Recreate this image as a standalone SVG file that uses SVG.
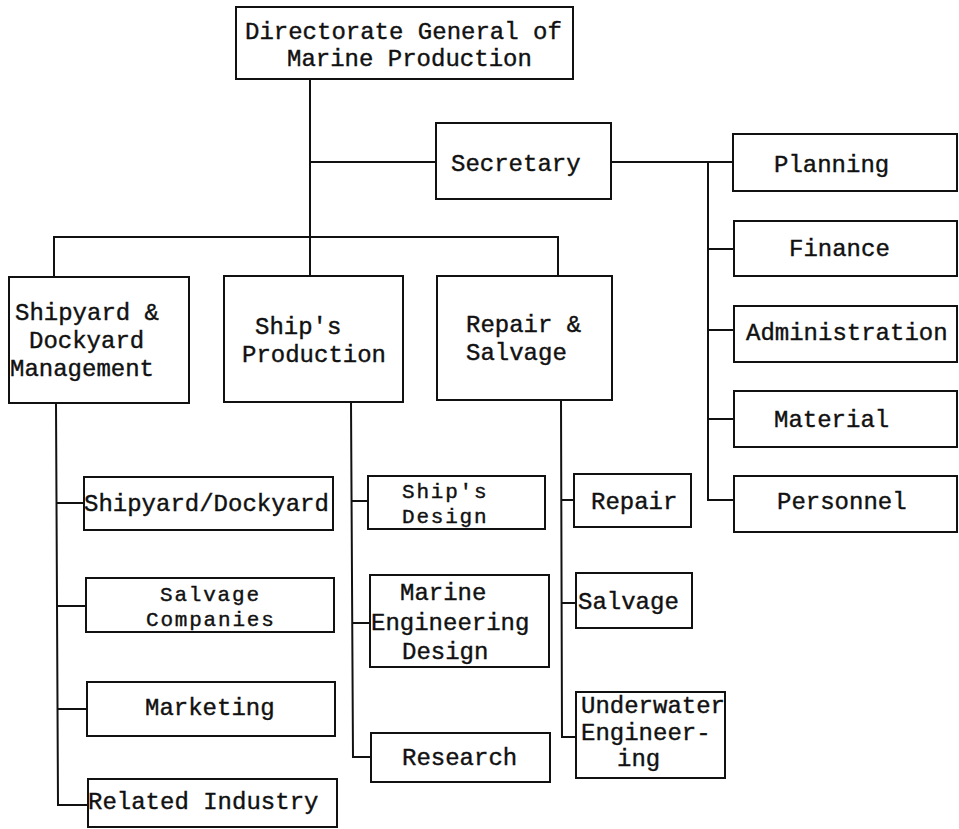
<svg xmlns="http://www.w3.org/2000/svg" width="959" height="829" viewBox="0 0 959 829">
<style>
.box{fill:#fff;stroke:#111;stroke-width:2}
.ln{fill:none;stroke:#111;stroke-width:2}
text{font-family:"Liberation Mono","DejaVu Sans Mono",monospace;font-size:24px;fill:#111;stroke:#111;stroke-width:0.4}
text.sm{font-size:21px;letter-spacing:1.8px}
</style>
<rect width="959" height="829" fill="#fff"/>
<g id="connectors">
<path class="ln" d="M310,79 V276"/>
<path class="ln" d="M310,162 H436"/>
<path class="ln" d="M54,277 V237 H558 V276"/>
<path class="ln" d="M611,162 H733"/>
<path class="ln" d="M708,162 V500 H734"/>
<path class="ln" d="M708,249 H734 M708,330 H734 M708,419 H734"/>
<path class="ln" d="M56,403 L58,805 H88 M56,503 H84 M57,606 H86 M57,709 H87"/>
<path class="ln" d="M351,402 L353,757 H371 M351,501 H368 M352,623 H370"/>
<path class="ln" d="M561,400 L562,737 H577 M561,500 H574 M562,603 H576"/>
</g>
<g id="n-dgmp"><rect class="box" x="236" y="7" width="337" height="72"/><text x="245" y="39">Directorate General of</text><text x="287" y="66">Marine Production</text></g>
<g id="n-secretary"><rect class="box" x="436" y="123" width="175" height="76"/><text x="451" y="171">Secretary</text></g>
<g id="n-planning"><rect class="box" x="733" y="134" width="224" height="57"/><text x="774" y="172">Planning</text></g>
<g id="n-finance"><rect class="box" x="734" y="221" width="223" height="55"/><text x="789" y="256">Finance</text></g>
<g id="n-admin"><rect class="box" x="734" y="306" width="223" height="56"/><text x="746" y="340">Administration</text></g>
<g id="n-material"><rect class="box" x="734" y="391" width="223" height="56"/><text x="774" y="427">Material</text></g>
<g id="n-personnel"><rect class="box" x="734" y="476" width="223" height="56"/><text x="777" y="509">Personnel</text></g>
<g id="n-sdm"><rect class="box" x="9" y="277" width="180" height="126"/><text x="15" y="320">Shipyard &amp;</text><text x="29" y="348">Dockyard</text><text x="10" y="376">Management</text></g>
<g id="n-sp"><rect class="box" x="224" y="276" width="179" height="126"/><text x="255" y="334">Ship's</text><text x="242" y="362">Production</text></g>
<g id="n-rs"><rect class="box" x="437" y="276" width="175" height="124"/><text x="466" y="332">Repair &amp;</text><text x="466" y="360">Salvage</text></g>
<g id="n-sd"><rect class="box" x="84" y="477" width="249" height="53"/><text x="84" y="511">Shipyard/Dockyard</text></g>
<g id="n-sc"><rect class="box" x="86" y="578" width="248" height="54"/><text class="sm" x="160" y="601">Salvage</text><text class="sm" x="146" y="626">Companies</text></g>
<g id="n-mkt"><rect class="box" x="87" y="682" width="248" height="54"/><text x="145" y="715">Marketing</text></g>
<g id="n-ri"><rect class="box" x="88" y="779" width="249" height="48"/><text x="88" y="809">Related Industry</text></g>
<g id="n-shd"><rect class="box" x="368" y="476" width="177" height="53"/><text class="sm" x="402" y="498">Ship's</text><text class="sm" x="402" y="523">Design</text></g>
<g id="n-med"><rect class="box" x="370" y="575" width="179" height="92"/><text x="400" y="600">Marine</text><text x="371" y="630">Engineering</text><text x="402" y="659">Design</text></g>
<g id="n-res"><rect class="box" x="371" y="733" width="179" height="49"/><text x="402" y="765">Research</text></g>
<g id="n-repair"><rect class="box" x="574" y="474" width="117" height="53"/><text x="591" y="509">Repair</text></g>
<g id="n-salvage"><rect class="box" x="576" y="573" width="116" height="55"/><text x="578" y="609">Salvage</text></g>
<g id="n-uwe"><rect class="box" x="576" y="692" width="149" height="86"/><text x="581" y="713">Underwater</text><text x="581" y="740">Engineer-</text><text x="617" y="766">ing</text></g>
</svg>
